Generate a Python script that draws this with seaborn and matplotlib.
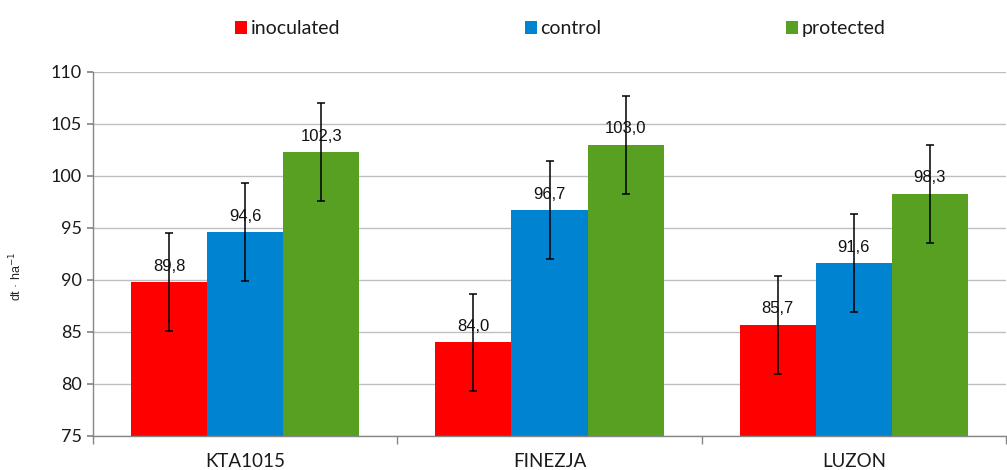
import matplotlib
matplotlib.use("Agg")
import matplotlib.pyplot as plt
import seaborn as sns
import pandas as pd
import numpy as np

categories = ["KTA1015", "FINEZJA", "LUZON"]
series = ["inoculated", "control", "protected"]
inoculated = [89.8, 84.0, 85.7]
control = [94.6, 96.7, 91.6]
protected = [102.3, 103.0, 98.3]
err_inoculated = [4.7, 4.7, 4.7]
err_control = [4.7, 4.7, 4.7]
err_protected = [4.7, 4.7, 4.7]
colors = ["#FF0000", "#0084D1", "#58A021"]

values = [inoculated, control, protected]
errors = [err_inoculated, err_control, err_protected]
rows = []
for s, vals in zip(series, values):
    for c, v in zip(categories, vals):
        rows.append({"category": c, "series": s, "value": v})
df = pd.DataFrame(rows)

sns.set_theme(style="white")
plt.rcParams["font.family"] = ["Lato", "DejaVu Sans"]

fig = plt.figure(figsize=(10.07, 4.70), dpi=100)
ax = fig.add_axes([93/1007, 1-436/470, (1006-93)/1007, (436-72)/470])

sns.barplot(data=df, x="category", y="value", hue="series", order=categories,
            hue_order=series, palette=colors, width=0.75, ax=ax,
            saturation=1, errorbar=None, linewidth=0, legend=True)

for cont, errs in zip(ax.containers, errors):
    xs = [p.get_x() + p.get_width()/2 for p in cont]
    ys = [p.get_y() + p.get_height() for p in cont]
    ax.errorbar(xs, ys, yerr=errs, fmt="none", ecolor="black", elinewidth=1.1,
                capsize=3, capthick=1.1, zorder=5)
    ax.bar_label(cont, labels=[f"{v:.1f}".replace(".", ",") for v in ys],
                 padding=6, fontsize=12, color="#111111", zorder=6,
                 fontfamily=["Liberation Sans", "DejaVu Sans"])

ax.set_ylim(75, 110)
ax.set_yticks(np.arange(75, 111, 5))
ax.set_xlim(-0.5, 2.5)
ax.yaxis.grid(True, color="#BFBFBF", linewidth=1)
ax.set_axisbelow(True)
ax.set_xlabel("")
ax.set_ylabel("dt · ha$^{-1}$", fontsize=9, fontfamily=["Liberation Sans", "DejaVu Sans"])
ax.yaxis.set_label_coords(-0.075, 0.44)

for s in ["top", "right"]:
    ax.spines[s].set_visible(False)
for s in ["left", "bottom"]:
    ax.spines[s].set_color("#868686")
    ax.spines[s].set_linewidth(1)

ax.tick_params(axis="y", labelsize=13, length=4, color="#868686", direction="out",
               left=True, pad=4, labelcolor="#1a1a1a")
ax.tick_params(axis="x", length=0, labelsize=13.5, pad=12, labelcolor="#1a1a1a")
ax.set_xticks([-0.5, 0.5, 1.5, 2.5], minor=True)
ax.tick_params(axis="x", which="minor", length=6, color="#868686", direction="out", bottom=True)

leg = ax.legend(loc="upper center", bbox_to_anchor=(0.512, 1.19), ncol=3, frameon=False,
                handlelength=0.6, handleheight=0.6, handletextpad=0.2, columnspacing=9.5,
                prop={"family": ["Lato", "DejaVu Sans"], "size": 14})
for t in leg.get_texts():
    t.set_color("#1a1a1a")

fig.savefig("out.png", dpi=100)
